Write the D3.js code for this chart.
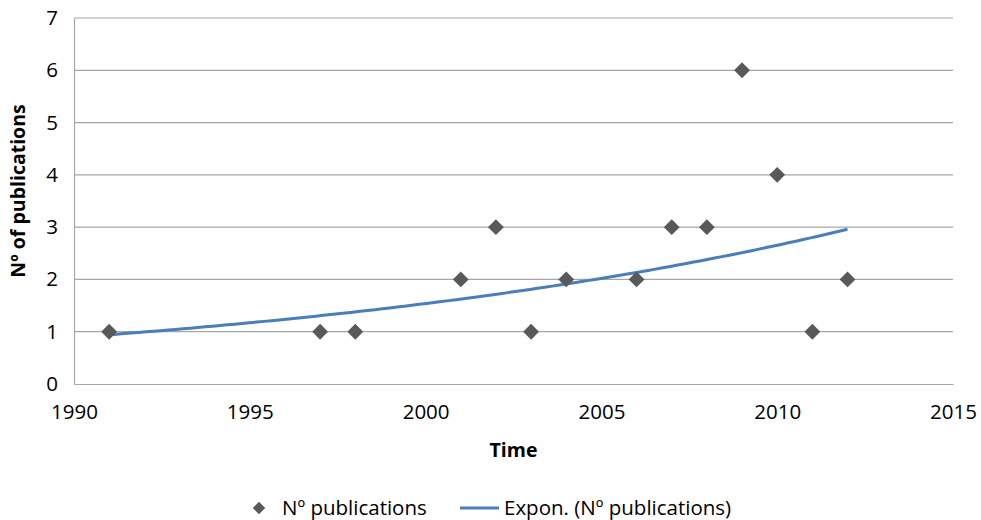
<!DOCTYPE html>
<html><head><meta charset="utf-8">
<script src="https://cdn.jsdelivr.net/npm/d3@7"></script>
<style>body{margin:0;background:#fff}svg{display:block}</style>
</head><body>
<script>
const years = [1991,1997,1998,2001,2002,2003,2004,2006,2007,2008,2009,2010,2011,2012];
const pubs  = [1,1,1,2,3,1,2,2,3,3,6,4,1,2];
const xTicks = [1990,1995,2000,2005,2010,2015];
const yTicks = [0,1,2,3,4,5,6,7];
const seriesName = "Nº publications";
const trendName = "Expon. (Nº publications)";

const W=981,H=520, L=74,R=953,T=18,B=384;
const font = "'Open Sans', sans-serif";
const svg = d3.select("body").append("svg").attr("width",W).attr("height",H);
const x = d3.scaleLinear().domain([1990,2015]).range([L,R]);
const y = d3.scaleLinear().domain([0,7]).range([B,T]);

// gridlines
svg.append("g").selectAll("line").data(yTicks.filter(d=>d>0)).join("line")
  .attr("x1",L).attr("x2",R).attr("y1",d=>y(d)).attr("y2",d=>y(d))
  .attr("stroke","#a6a6a6").attr("stroke-width",1.2);
// axes
const ya = svg.append("g").attr("transform",`translate(${L},0)`)
  .call(d3.axisLeft(y).tickValues(yTicks).tickFormat(d3.format("d")).tickSize(0).tickPadding(16));
const xa = svg.append("g").attr("transform",`translate(0,${B})`)
  .call(d3.axisBottom(x).tickValues(xTicks).tickFormat(d3.format("d")).tickSize(0).tickPadding(20));
[ya,xa].forEach(a=>{
  a.select(".domain").attr("stroke","#a6a6a6").attr("stroke-width",1.2);
  a.selectAll("text").attr("font-family",font).attr("font-size",20.5).attr("fill","#000");
});

// exponential trend (least squares on ln y, as Excel)
const n=years.length, mx=d3.mean(years), ly=pubs.map(Math.log), ml=d3.mean(ly);
const b = d3.sum(years,(v,i)=>(v-mx)*(ly[i]-ml))/d3.sum(years,v=>(v-mx)*(v-mx));
const trend = d3.range(0,101).map(i=>{const xv=years[0]+(years[n-1]-years[0])*i/100;return [xv,Math.exp(ml+b*(xv-mx))];});
svg.append("path").datum(trend)
  .attr("d",d3.line().x(d=>x(d[0])).y(d=>y(d[1])))
  .attr("fill","none").attr("stroke","#4a7ebb").attr("stroke-width",3);

// markers
const diamond = d3.symbol().type(d3.symbolDiamond2).size(160);
svg.append("g").selectAll("path").data(years).join("path")
  .attr("d",diamond).attr("transform",(d,i)=>`translate(${x(d)},${y(pubs[i])})`)
  .attr("fill","#595959");

// axis titles
svg.append("text").attr("x",(L+R)/2).attr("y",457).attr("text-anchor","middle")
  .attr("font-family",font).attr("font-weight","bold").attr("font-size",19.5).text("Time");
svg.append("text").attr("transform",`translate(25,${(T+B)/2 - 10}) rotate(-90)`).attr("text-anchor","middle")
  .attr("font-family",font).attr("font-weight","bold").attr("font-size",19.5).text("Nº of publications");

// legend
const lg = svg.append("g");
lg.append("path").attr("d",d3.symbol().type(d3.symbolDiamond2).size(100)).attr("transform","translate(259,508)").attr("fill","#595959");
lg.append("text").attr("x",282).attr("y",515).attr("font-family",font).attr("font-size",20.5).text(seriesName);
lg.append("line").attr("x1",460).attr("x2",499).attr("y1",508).attr("y2",508).attr("stroke","#4a7ebb").attr("stroke-width",3);
lg.append("text").attr("x",504).attr("y",515).attr("font-family",font).attr("font-size",20.5).text(trendName);
</script>
</body></html>
